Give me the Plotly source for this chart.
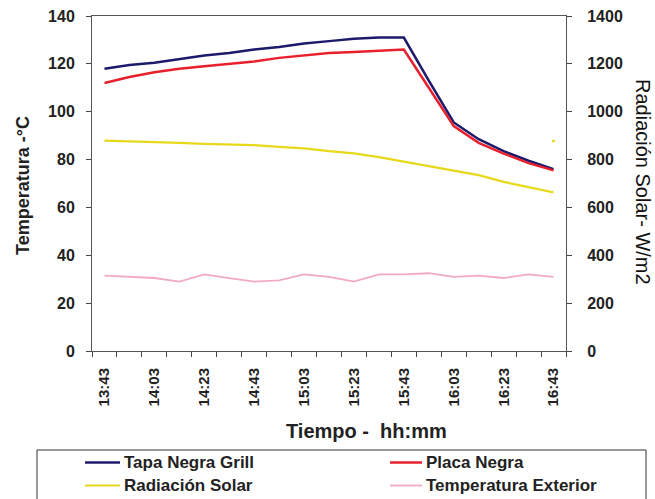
import plotly.graph_objects as go

times = ["13:43", "13:53", "14:03", "14:13", "14:23", "14:33", "14:43", "14:53", "15:03", "15:13",
         "15:23", "15:33", "15:43", "15:53", "16:03", "16:13", "16:23", "16:33", "16:43"]
tick_text = [t if i % 2 == 0 else "" for i, t in enumerate(times)]

tapa_negra = [118, 119.5, 120.5, 122, 123.5, 124.5, 126, 127, 128.5, 129.5,
              130.5, 131, 131, 113, 95.5, 88.5, 83.5, 79.5, 76]
placa_negra = [112, 114.5, 116.5, 118, 119, 120, 121, 122.5, 123.5, 124.5,
               125, 125.5, 126, 110, 94, 87, 82.5, 78.5, 75.5]
radiacion = [879, 877, 875, 870, 866, 864, 860, 853, 847, 835,
             826, 810, 791, 775, 756, 735, 707, 685, 663]
temp_ext = [31.5, 31, 30.5, 29, 32, 30.5, 29, 29.5, 32, 31,
            29, 32, 32, 32.5, 31, 31.5, 30.5, 32, 31]
stray_x = ["16:43"]
stray_y = [878]

series_names = ["Tapa Negra Grill", "Placa Negra", "Radiación Solar", "Temperatura Exterior"]
series_colors = ["#1c1a6b", "#e8202e", "#e8d81a", "#f3a9c6"]
series_widths = [2.5, 2.5, 2.2, 1.8]

FONT = "Liberation Sans, Arial, sans-serif"
TXT = "#222222"

# figure geometry (pixels)
W, H = 655, 499
ML, MR, MT, MB = 92, 89, 16, 148
PW, PH = W - ML - MR, H - MT - MB


def px_x(p):
    return (p - ML) / PW


def px_y(p):
    return (H - MB - p) / PH


fig = go.Figure()
data_y = [tapa_negra, placa_negra, radiacion, temp_ext]
axes = ["y", "y", "y2", "y"]
for name, col, lw, ys, ax in zip(series_names, series_colors, series_widths, data_y, axes):
    fig.add_trace(go.Scatter(x=times, y=ys, name=name, mode="lines",
                             line=dict(color=col, width=lw), yaxis=ax, showlegend=False))
fig.add_trace(go.Scatter(x=stray_x, y=stray_y, mode="markers", showlegend=False,
                         marker=dict(color="#e8d81a", size=3), yaxis="y2"))

shapes = []
annotations = []

# legend box (drawn manually, bottom runs past the image edge as in the reference)
shapes.append(dict(type="rect", xref="paper", yref="paper",
                   x0=px_x(37), x1=px_x(646), y0=px_y(515), y1=px_y(450),
                   line=dict(color="#333", width=1), fillcolor="white", layer="above"))
leg_pos = [(85, 120, 122, 462.5), (390, 422, 424, 462.5), (85, 120, 122, 485.5), (390, 422, 424, 485.5)]
for (lx0, lx1, tx, ty), name, col, lw in zip(leg_pos, series_names, series_colors, series_widths):
    shapes.append(dict(type="line", xref="paper", yref="paper",
                       x0=px_x(lx0), x1=px_x(lx1), y0=px_y(ty), y1=px_y(ty),
                       line=dict(color=col, width=lw), layer="above"))
    annotations.append(dict(text=name, xref="paper", yref="paper", x=px_x(tx), y=px_y(ty),
                            xanchor="left", yanchor="middle", showarrow=False,
                            font=dict(size=17, family=FONT, weight="bold", color=TXT)))

# axis titles
annotations.append(dict(text="Tiempo -  hh:mm", xref="paper", yref="paper",
                        x=px_x(366), y=px_y(431), xanchor="center", yanchor="middle",
                        showarrow=False, font=dict(size=20, family=FONT, weight="bold", color=TXT)))
annotations.append(dict(text="Temperatura -°C", textangle=-90, xref="paper", yref="paper",
                        x=px_x(23), y=px_y(186), xanchor="center", yanchor="middle",
                        showarrow=False, font=dict(size=18, family=FONT, weight="bold", color=TXT)))
annotations.append(dict(text="Radiación Solar- W/m2", textangle=90, xref="paper", yref="paper",
                        x=px_x(643), y=px_y(182), xanchor="center", yanchor="middle",
                        showarrow=False, font=dict(size=20, family=FONT, color="#111")))

fig.update_layout(
    width=W, height=H,
    margin=dict(l=ML, r=MR, t=MT, b=MB, autoexpand=False),
    paper_bgcolor="white", plot_bgcolor="white",
    font=dict(family=FONT, color=TXT),
    showlegend=False,
    xaxis=dict(
        type="category", tickmode="array", tickvals=times, ticktext=tick_text,
        tickson="boundaries", ticks="outside", ticklen=5, tickcolor="#444",
        tickangle=-90, tickfont=dict(size=15, family=FONT, weight="bold", color=TXT),
        ticklabelstandoff=10,
        showline=True, linecolor="#555", linewidth=1, mirror=True,
        showgrid=False, zeroline=False, range=[-0.5, 18.5], automargin=False,
    ),
    yaxis=dict(
        range=[0, 140], dtick=20, ticks="outside", ticklen=5, tickcolor="#444",
        tickfont=dict(size=16, family=FONT, weight="bold", color=TXT),
        ticklabelstandoff=8,
        showline=True, linecolor="#555", linewidth=1, showgrid=False, zeroline=False,
        automargin=False,
    ),
    yaxis2=dict(
        range=[0, 1400], dtick=200, overlaying="y", side="right", ticks="outside", ticklen=5,
        tickcolor="#444", tickfont=dict(size=16, family=FONT, weight="bold", color=TXT),
        ticklabelstandoff=12,
        showline=True, linecolor="#555", linewidth=1, showgrid=False, zeroline=False,
        automargin=False,
    ),
    shapes=shapes,
    annotations=annotations,
)

fig.write_html("out.html", config={"displayModeBar": False},
               post_script="document.body.style.margin='0';document.body.style.overflow='hidden';")
